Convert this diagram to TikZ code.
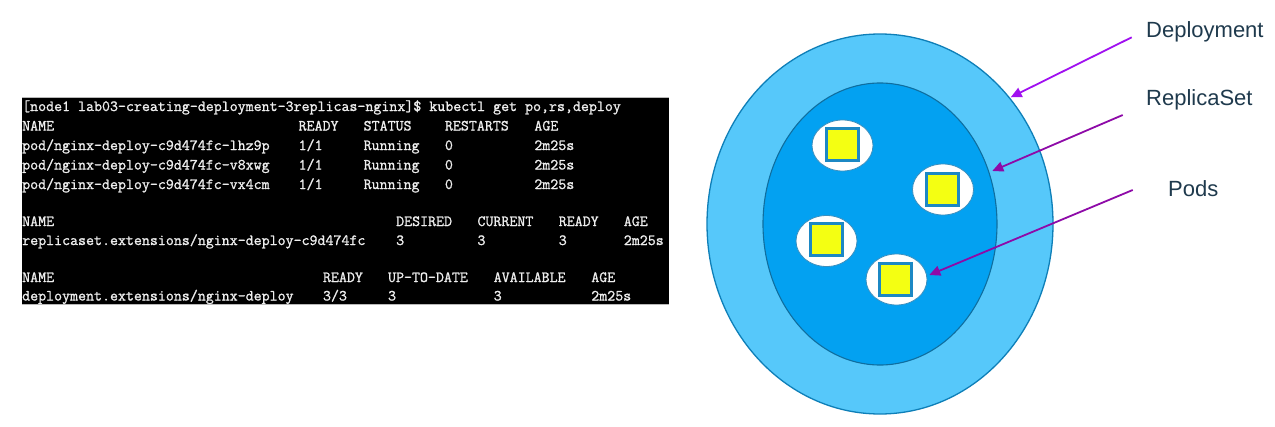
\documentclass[tikz,border=0pt]{standalone}
\usepackage{fontspec}
\setsansfont{Liberation Sans}
\newfontfamily\termfont[FakeBold=1.2]{Latin Modern Mono}
\usetikzlibrary{arrows.meta,shapes.geometric}
\definecolor{outerfill}{HTML}{56C8FA}
\definecolor{outerline}{HTML}{0E7FB8}
\definecolor{innerfill}{HTML}{03A1F1}
\definecolor{innerline}{HTML}{0F6E9F}
\definecolor{podline}{HTML}{3A8FBF}
\definecolor{podyellow}{HTML}{F4FF12}
\definecolor{sqline}{HTML}{1C88C4}
\definecolor{arrowA}{HTML}{A010F0}
\definecolor{arrowB}{HTML}{8E0AA8}
\definecolor{lbltext}{HTML}{1F3A4D}
\definecolor{termtext}{HTML}{EEEEEE}
\begin{document}
\begin{tikzpicture}[x=1pt,y=-1pt,
  termbox/.style={fill=black,draw=none,inner sep=0pt,anchor=north west,minimum width=647pt,minimum height=207pt},
  tt/.style={font=\fontsize{15.5}{18}\selectfont\termfont,text=termtext,inner sep=0pt,anchor=base west},
  lbl/.style={font=\fontsize{22}{26}\selectfont\sffamily,text=lbltext,inner sep=0pt,anchor=base west},
  outerell/.style={ellipse,draw=outerline,line width=1.3pt,fill=outerfill,minimum width=346pt,minimum height=380pt,inner sep=0pt},
  innerell/.style={ellipse,draw=innerline,line width=1.1pt,fill=innerfill,minimum width=234pt,minimum height=282pt,inner sep=0pt},
  podshape/.style={ellipse,draw=podline,line width=0.8pt,fill=white,minimum width=61pt,minimum height=51pt,inner sep=0pt},
  podsq/.style={rectangle,draw=sqline,line width=2.2pt,fill=podyellow,minimum size=32pt,inner sep=0pt},
  arrA/.style={draw=arrowA,line width=1.8pt,-{Triangle[length=11pt,width=10pt]}},
  arrB/.style={draw=arrowB,line width=1.8pt,-{Triangle[length=11pt,width=10pt]}}
]
\useasboundingbox (0,0) rectangle (1275,426);
\fill[white] (0,0) rectangle (1275,426);

% terminal
\node[termbox] (term) at (22,97) {};
\draw[gray!55,line width=1pt] (term.north west) -- (term.north east);
\draw[gray!55,line width=1pt] (term.south west) -- (term.south east);
\node[tt] (line0) at (22,111) {[node1 lab03-creating-deployment-3replicas-nginx]\$ kubectl get po,rs,deploy};
\foreach \yy/\row [count=\i] in {
  130.5/{0/NAME,34/READY,42/STATUS,52/RESTARTS,63/AGE},
  150/{0/{pod/nginx-deploy-c9d474fc-lhz9p},34/{1/1},42/Running,52/0,63/2m25s},
  169.5/{0/{pod/nginx-deploy-c9d474fc-v8xwg},34/{1/1},42/Running,52/0,63/2m25s},
  189/{0/{pod/nginx-deploy-c9d474fc-vx4cm},34/{1/1},42/Running,52/0,63/2m25s},
  226/{0/NAME,46/DESIRED,56/CURRENT,66/READY,74/AGE},
  245/{0/{replicaset.extensions/nginx-deploy-c9d474fc},46/3,56/3,66/3,74/2m25s},
  282/{0/NAME,37/READY,45/UP-TO-DATE,58/AVAILABLE,70/AGE},
  300.5/{0/{deployment.extensions/nginx-deploy},37/{3/3},45/3,58/3,70/2m25s}}{
  \foreach \c/\t [count=\j] in \row {
    \node[tt] (cell\i-\j) at ({22+\c*8.13},\yy) {\t};
  }
}

% deployment diagram
\node[outerell] (deploy) at (880,224) {};
\node[innerell] (rs) at (880,224) {};
\node[podshape] (pod1) at (842.5,145.5) {};
\node[podshape] (pod2) at (943,189.5) {};
\node[podshape] (pod3) at (826.5,241) {};
\node[podshape] (pod4) at (896.5,279.5) {};
\node[podsq] (sq1) at (842.5,144.5) {};
\node[podsq] (sq2) at (942.5,189.5) {};
\node[podsq] (sq3) at (826.5,239.5) {};
\node[podsq] (sq4) at (895.5,279.5) {};

% labels
\node[lbl] (ldeploy) at (1146,37.7) {Deployment};
\node[lbl] (lrs) at (1146,105.7) {ReplicaSet};
\node[lbl] (lpods) at (1168,196.7) {Pods};

% arrows
\coordinate (a1s) at (1131.7,37.3);
\coordinate (a1e) at (1010.7,97.3);
\coordinate (a2s) at (1122.7,115);
\coordinate (a2e) at (992.3,171);
\coordinate (a3s) at (1132.7,190);
\coordinate (a3e) at (929.3,275);
\draw[arrA] (a1s) -- (a1e);
\draw[arrB] (a2s) -- (a2e);
\draw[arrB] (a3s) -- (a3e);
\end{tikzpicture}
\end{document}
